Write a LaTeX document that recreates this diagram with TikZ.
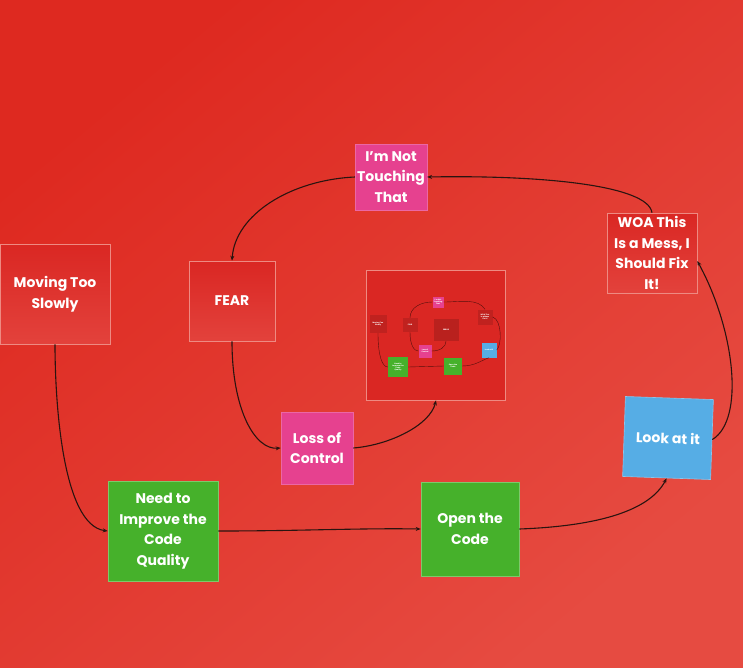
\documentclass[tikz,border=0pt]{standalone}
\usepackage{fontspec}
\setmainfont{Poppins}
\usetikzlibrary{arrows.meta,shadings}
\definecolor{bgA}{HTML}{DE2920}
\definecolor{bgB}{HTML}{E64B41}
\definecolor{noteRed}{HTML}{DA2723}
\definecolor{noteRedB}{HTML}{E3423C}
\definecolor{notePink}{HTML}{E6418F}
\definecolor{noteGreen}{HTML}{46B12B}
\definecolor{noteBlue}{HTML}{56ADE5}
\definecolor{lineC}{HTML}{2A1410}
\definecolor{edgeC}{HTML}{EE8A82}
\tikzset{
  note/.style={minimum width=#1pt, minimum height=#1pt, inner sep=2pt, align=center,
    text=white, font=\fontsize{14}{20.5}\selectfont\bfseries},
  rednote/.style={note=#1, draw=edgeC, line width=0.6pt, top color=noteRed, bottom color=noteRedB},
  pinknote/.style={note=#1, fill=notePink, draw=notePink!80!white, line width=0.6pt},
  greennote/.style={note=#1, fill=noteGreen, draw=noteGreen!70!white, line width=0.6pt},
  bluenote/.style={note=#1, fill=noteBlue, draw=noteBlue!70!white, line width=0.6pt},
  link/.style={draw=lineC, line width=1.1pt, -{Stealth[length=5pt,width=4pt]}},
  minilink/.style={draw=lineC!80!red, line width=0.4pt},
  mini/.style={inner sep=0.3pt, align=center, text=white, font=\fontsize{1.8}{2.1}\selectfont\bfseries},
}
\begin{document}
\begin{tikzpicture}[x=1pt,y=-1pt]
\useasboundingbox (0,0) rectangle (743,667);
\shade[top color=bgA, bottom color=bgB, shading angle=40] (0,0) rectangle (743,667);

% main notes
\node[rednote=100, minimum width=110pt] (slow) at (55,294) {Moving Too\\Slowly};
\node[rednote=80, minimum width=86pt] (fear) at (232,301) {FEAR};
\node[pinknote=66] (touch) at (391,177) {I'm Not\\Touching\\That};
\node[rednote=80, minimum width=90pt] (woa) at (652,253) {WOA This\\Is a Mess, I\\Should Fix\\It!};
\node[pinknote=72] (loss) at (317,448) {Loss of\\Control};
\node[greennote=100, minimum width=110pt] (need) at (163,531) {Need to\\Improve the\\Code\\Quality};
\node[greennote=94, minimum width=98pt] (open) at (470,529) {Open the\\Code};
\node[bluenote=80, minimum width=88pt, rotate=-2] (look) at (668,438) {Look at it};

% embedded snapshot
\node[minimum width=139pt, minimum height=130pt, inner sep=0pt, fill=noteRed, draw=edgeC, line width=0.7pt] (snap) at (436,335) {};
\node[mini, fill=noteRed!88!black, minimum width=17pt, minimum height=18pt] (mslow) at (378,324) {Moving Too\\Slowly};
\node[mini, fill=noteRed!88!black, minimum width=15pt, minimum height=14pt] (mfear) at (410,325) {FEAR};
\node[mini, fill=noteRed!85!black, minimum width=25pt, minimum height=22pt] (msnap) at (446,330) {ERROR};
\node[mini, fill=notePink, minimum width=11pt, minimum height=11pt] (mtouch) at (438,302) {I'm Not\\Touching\\That};
\node[mini, fill=noteRed!88!black, minimum width=15pt, minimum height=15pt] (mwoa) at (485,317) {WOA This\\Is a Mess\\Fix It!};
\node[mini, fill=notePink, minimum width=13pt, minimum height=13pt] (mloss) at (425,351) {Loss of\\Control};
\node[mini, fill=noteGreen, minimum width=20pt, minimum height=20pt] (mneed) at (398,367) {Need to\\Improve the\\Code\\Quality};
\node[mini, fill=noteGreen, minimum width=18pt, minimum height=17pt] (mopen) at (453,366) {Open the\\Code};
\node[mini, fill=noteBlue, minimum width=15pt, minimum height=15pt] (mlook) at (489,350) {Look at it};
\draw[minilink] (mslow.south) .. controls (378,355) and (382,367) .. (mneed.west);
\draw[minilink] (mneed.east) -- (mopen.west);
\draw[minilink] (mopen.east) .. controls (475,366) and (482,360) .. (mlook.south);
\draw[minilink] (mlook.east) .. controls (502,345) and (502,320) .. (mwoa.east);
\draw[minilink] (mwoa.north) .. controls (478,298) and (460,302) .. (mtouch.east);
\draw[minilink] (mtouch.west) .. controls (420,302) and (410,308) .. (mfear.north);
\draw[minilink] (mfear.south) .. controls (410,345) and (414,351) .. (mloss.west);
\draw[minilink] (mloss.east) .. controls (440,351) and (446,347) .. (msnap.south);

% connectors
\draw[link] (slow.south) .. controls (55,400) and (62,525) .. (need.west);
\draw[link] (need.east) .. controls (300,531) and (360,528) .. (open.west);
\draw[link] (open.east) .. controls (600,526) and (650,510) .. (look.south);
\draw[link] (look.east) .. controls (745,420) and (735,330) .. ([yshift=-8pt]woa.east);
\draw[link] (woa.north) .. controls (648,185) and (540,175) .. (touch.east);
\draw[link] (touch.west) .. controls (290,180) and (235,215) .. (fear.north);
\draw[link] (fear.south) .. controls (232,410) and (255,450) .. (loss.west);
\draw[link] (loss.east) .. controls (390,445) and (430,425) .. (snap.south);
\end{tikzpicture}
\end{document}
